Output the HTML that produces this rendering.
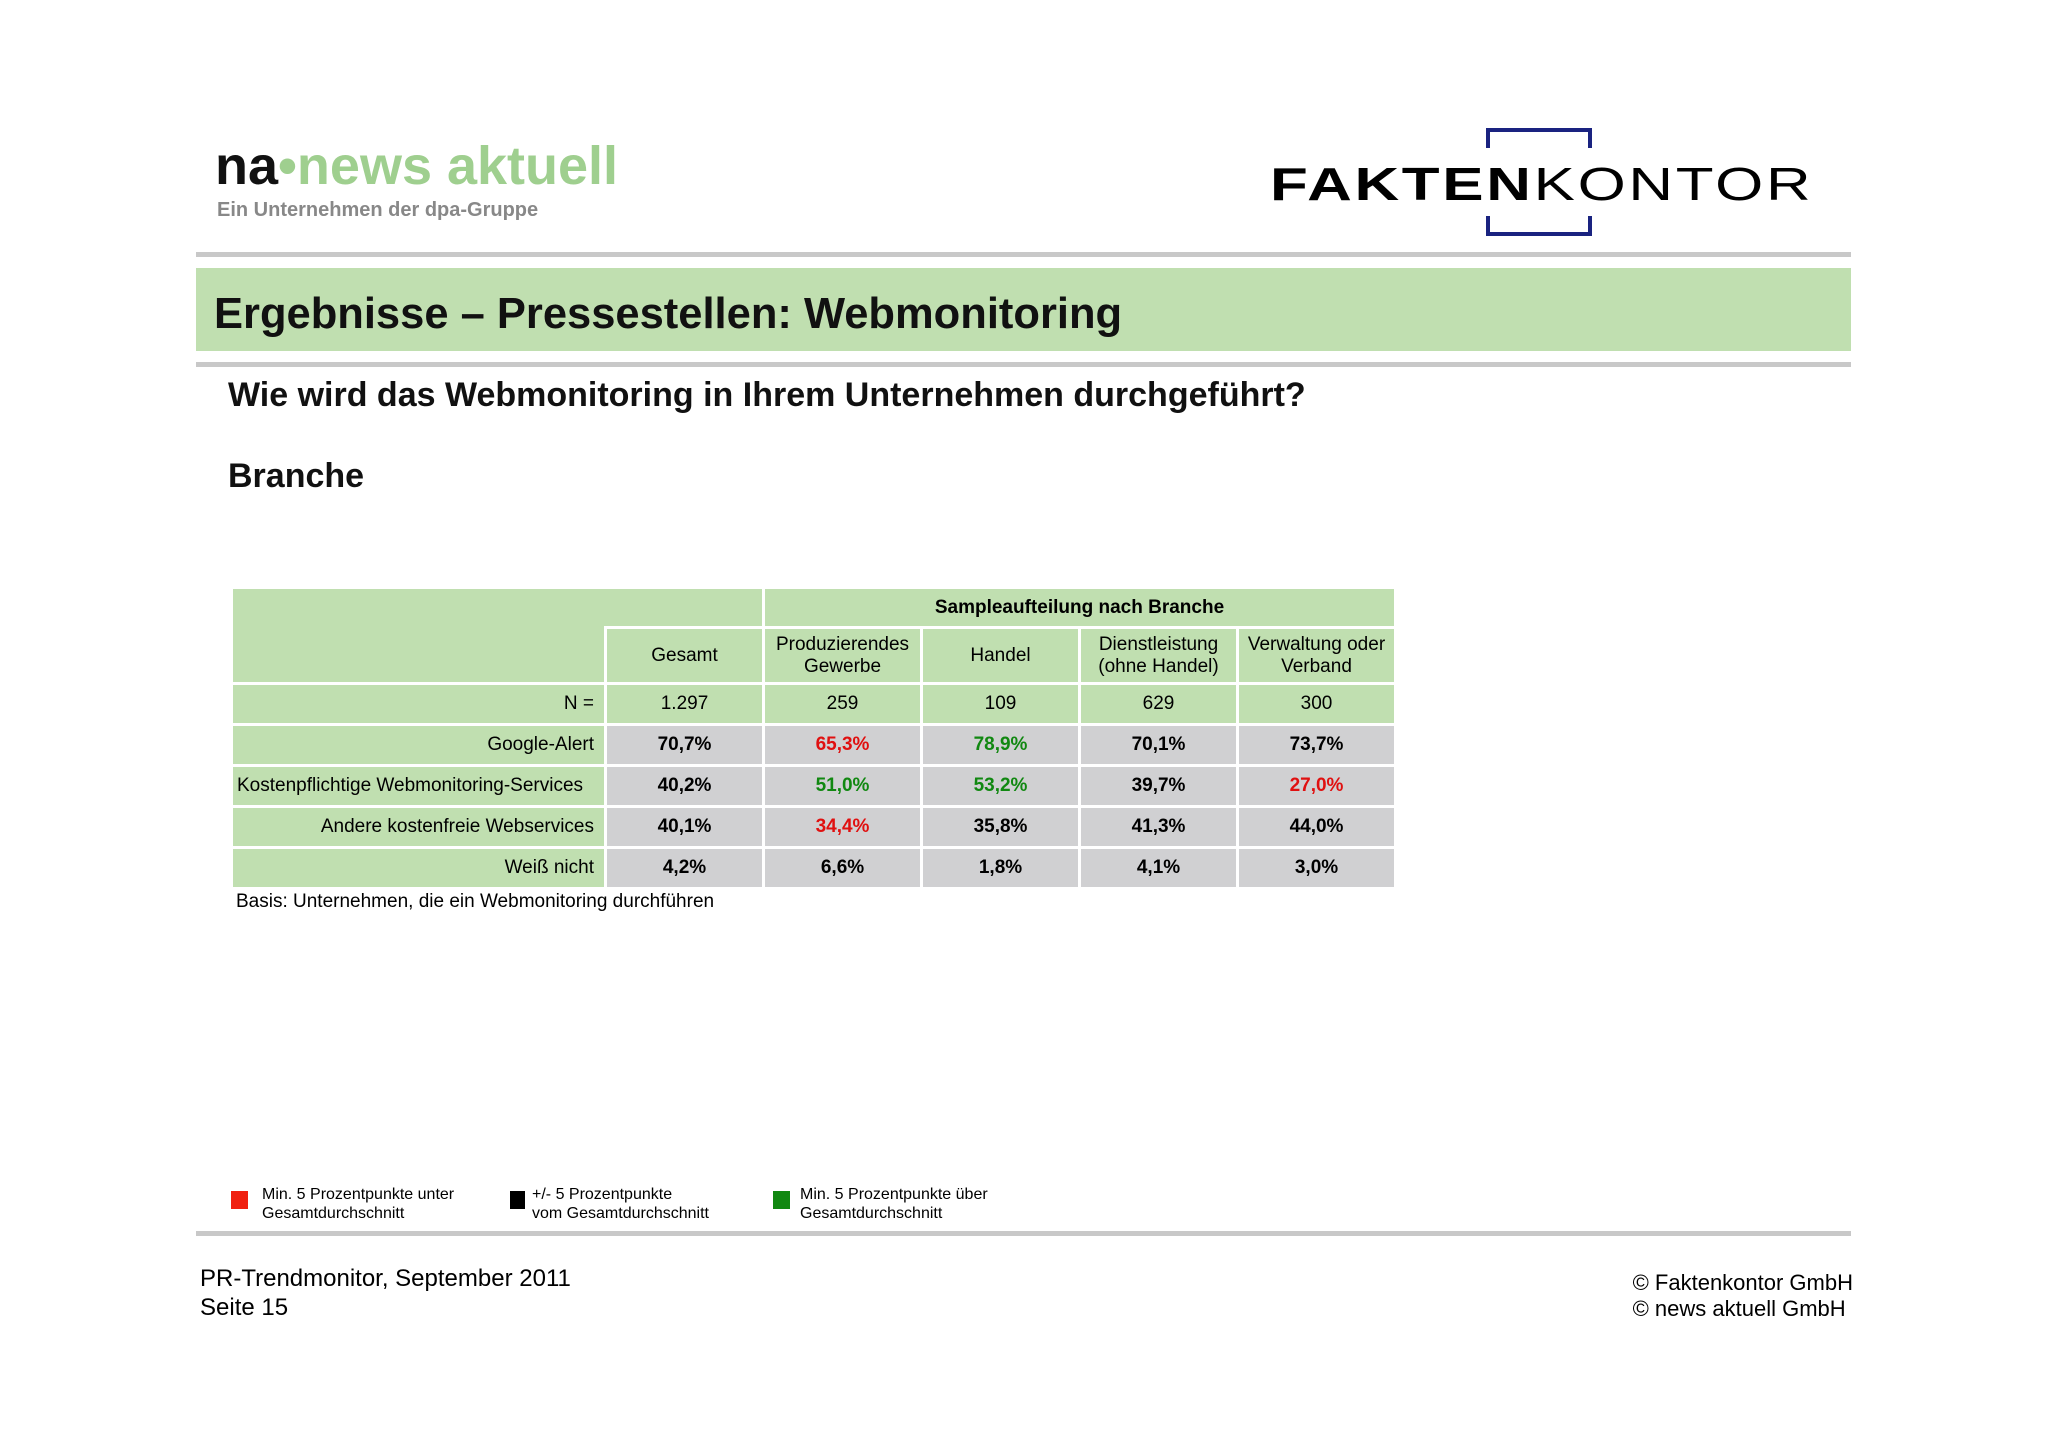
<!DOCTYPE html>
<html><head><meta charset="utf-8"><style>
body{margin:0;width:2048px;height:1447px;background:#fff;position:relative;font-family:"Liberation Sans",sans-serif;overflow:hidden}
.a{position:absolute;white-space:nowrap}
table{position:absolute;left:230px;top:586px;border-collapse:collapse;font-size:19px;table-layout:fixed}
td{border:3px solid #fff;text-align:center;padding:0;background:#c0dfb0}
td.v{background:#d0d0d2;font-weight:bold}
td.l{text-align:right;padding-right:10px}
.r{color:#e01010}.g{color:#118811}
</style></head><body>
<div class="a" style="left:215px;top:135px;font-size:54px;font-weight:bold;letter-spacing:0px"><span style="color:#111">na</span><span style="color:#9fcf8f">•news aktuell</span></div>
<div class="a" style="left:217px;top:199px;font-size:20px;font-weight:bold;color:#888">Ein Unternehmen der dpa-Gruppe</div>
<div class="a" style="left:1486px;top:128px;width:106px;height:108px;border:4px solid #1a2380;box-sizing:border-box"></div>
<div class="a" style="left:1480px;top:148px;width:120px;height:68px;background:#fff"></div>
<div class="a" style="left:1270px;top:157px;font-size:46px;letter-spacing:2px;transform:scaleX(1.345);transform-origin:left"><b>FAKTEN</b>KONTOR</div>
<div class="a" style="left:196px;top:252px;width:1655px;height:5px;background:#c8c8c8"></div>
<div class="a" style="left:196px;top:268px;width:1655px;height:83px;background:#c0dfb0"></div>
<div class="a" style="left:214px;top:290px;font-size:43.5px;font-weight:bold;color:#111">Ergebnisse – Pressestellen: Webmonitoring</div>
<div class="a" style="left:196px;top:362px;width:1655px;height:5px;background:#c8c8c8"></div>
<div class="a" style="left:228px;top:376px;font-size:34px;font-weight:bold;color:#111">Wie wird das Webmonitoring in Ihrem Unternehmen durchgeführt?</div>
<div class="a" style="left:228px;top:457px;font-size:34px;font-weight:bold;color:#111">Branche</div>
<table>
<colgroup><col style="width:374px"><col style="width:158px"><col style="width:158px"><col style="width:158px"><col style="width:158px"><col style="width:158px"></colgroup>
<tr style="height:40px"><td rowspan="2" style="border-right:none"></td><td style="border-left:none"></td><td colspan="4" style="font-weight:bold">Sampleaufteilung nach Branche</td></tr>
<tr style="height:56px"><td>Gesamt</td><td>Produzierendes<br>Gewerbe</td><td>Handel</td><td>Dienstleistung<br>(ohne Handel)</td><td>Verwaltung oder<br>Verband</td></tr>
<tr style="height:41px"><td class="l">N =</td><td>1.297</td><td>259</td><td>109</td><td>629</td><td>300</td></tr>
<tr style="height:41px"><td class="l">Google-Alert</td><td class="v">70,7%</td><td class="v r">65,3%</td><td class="v g">78,9%</td><td class="v">70,1%</td><td class="v">73,7%</td></tr>
<tr style="height:41px"><td class="l" style="text-align:left;padding-left:4px;padding-right:4px">Kostenpflichtige Webmonitoring-Services</td><td class="v">40,2%</td><td class="v g">51,0%</td><td class="v g">53,2%</td><td class="v">39,7%</td><td class="v r">27,0%</td></tr>
<tr style="height:41px"><td class="l">Andere kostenfreie Webservices</td><td class="v">40,1%</td><td class="v r">34,4%</td><td class="v">35,8%</td><td class="v">41,3%</td><td class="v">44,0%</td></tr>
<tr style="height:41px"><td class="l">Weiß nicht</td><td class="v">4,2%</td><td class="v">6,6%</td><td class="v">1,8%</td><td class="v">4,1%</td><td class="v">3,0%</td></tr>
</table>
<div class="a" style="left:236px;top:891px;font-size:19px">Basis: Unternehmen, die ein Webmonitoring durchführen</div>
<div class="a" style="left:231px;top:1191px;width:17px;height:18px;background:#f02010"></div>
<div class="a" style="left:262px;top:1185px;font-size:16px;line-height:19px">Min. 5 Prozentpunkte unter<br>Gesamtdurchschnitt</div>
<div class="a" style="left:510px;top:1191px;width:15px;height:18px;background:#000"></div>
<div class="a" style="left:532px;top:1185px;font-size:16px;line-height:19px">+/- 5 Prozentpunkte<br>vom Gesamtdurchschnitt</div>
<div class="a" style="left:773px;top:1191px;width:17px;height:18px;background:#118811"></div>
<div class="a" style="left:800px;top:1185px;font-size:16px;line-height:19px">Min. 5 Prozentpunkte über<br>Gesamtdurchschnitt</div>
<div class="a" style="left:196px;top:1231px;width:1655px;height:5px;background:#c8c8c8"></div>
<div class="a" style="left:200px;top:1264px;font-size:24px;line-height:29px">PR-Trendmonitor, September 2011<br>Seite 15</div>
<div class="a" style="right:195px;top:1270px;font-size:22px;line-height:26px">© Faktenkontor GmbH<br>© news aktuell GmbH</div>
</body></html>
